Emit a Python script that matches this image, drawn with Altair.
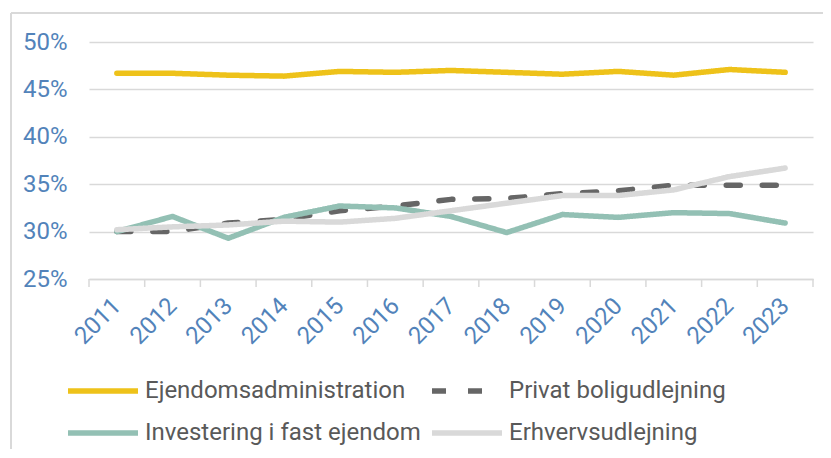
import altair as alt
import pandas as pd

# ---- data ----
years = [2011, 2012, 2013, 2014, 2015, 2016, 2017, 2018, 2019, 2020, 2021, 2022, 2023]
series_names = [
    "Ejendomsadministration",
    "Privat boligudlejning",
    "Investering i fast ejendom",
    "Erhvervsudlejning",
]
# legend is filled column by column: this order gives the reference's rows
legend_order = [
    "Ejendomsadministration",
    "Investering i fast ejendom",
    "Privat boligudlejning",
    "Erhvervsudlejning",
]
ejendomsadministration = [46.7, 46.7, 46.5, 46.4, 46.9, 46.8, 47.0, 46.8, 46.6, 46.9, 46.5, 47.1, 46.8]
privat_boligudlejning = [30.0, 30.0, 30.9, 31.3, 32.2, 32.7, 33.4, 33.5, 34.0, 34.3, 34.9, 34.9, 34.9]
investering_fast_ejendom = [30.0, 31.6, 29.3, 31.5, 32.7, 32.5, 31.6, 29.9, 31.8, 31.5, 32.0, 31.9, 30.9]
erhvervsudlejning = [30.2, 30.5, 30.7, 31.1, 31.0, 31.4, 32.2, 33.0, 33.8, 33.8, 34.4, 35.8, 36.7]
y_ticks = [0.25, 0.30, 0.35, 0.40, 0.45, 0.50]

series_values = [ejendomsadministration, privat_boligudlejning, investering_fast_ejendom, erhvervsudlejning]
rows = []
for name, vals in zip(series_names, series_values):
    for yr, v in zip(years, vals):
        rows.append({"year": yr, "value": v / 100.0, "series": name})
df = pd.DataFrame(rows)

tick_df = pd.DataFrame({"year": [y - 0.5 for y in years] + [years[-1] + 0.5]})
frame_df = pd.DataFrame({"k": [0]})

# ---- styles (in legend_order) ----
colors = ["#EEC21A", "#93C0B4", "#666666", "#D9D9D9"]
dashes = [[1, 0], [1, 0], [14, 22], [1, 0]]
grid_color = "#D9D9D9"
axis_blue = "#5283BA"
legend_gray = "#595959"
axis_font = "Liberation Sans Narrow, Roboto, sans-serif"
legend_font = "Roboto, sans-serif"

W, H = 724, 237

legend = alt.Legend(
    title=None,
    orient="none",
    legendX=-3,
    legendY=332,
    columns=2,
    padding=0,
    symbolType="M-2.5,0H2.5",
    symbolSize=784,
    symbolStrokeWidth=5.5,
    labelFont=legend_font,
    labelFontSize=24,
    labelColor=legend_gray,
    labelOffset=25,
    labelLimit=500,
    rowPadding=13,
    columnPadding=0,
)

x_enc = alt.X(
    "year:Q",
    scale=alt.Scale(domain=[years[0] - 0.5, years[-1] + 0.5], nice=False, zero=False),
    axis=alt.Axis(
        title=None,
        values=years,
        format="d",
        grid=False,
        ticks=False,
        tickSize=0,
        domain=True,
        domainColor=grid_color,
        domainWidth=1.5,
        labelAngle=-45,
        labelAlign="right",
        labelBaseline="middle",
        labelPadding=23,
        labelFont=axis_font,
        labelFontSize=24,
        labelColor=axis_blue,
        labelOverlap=False,
        labelFlush=False,
    ),
)

lines = alt.Chart(df).mark_line(strokeWidth=5.5, strokeCap="round", strokeJoin="round").encode(
    x=x_enc,
    y=alt.Y(
        "value:Q",
        scale=alt.Scale(domain=[0.25, 0.50], nice=False, zero=False),
        axis=alt.Axis(
            title=None,
            values=y_ticks,
            format=".0%",
            grid=True,
            gridColor=grid_color,
            gridWidth=1.5,
            domain=False,
            ticks=False,
            tickSize=0,
            labelPadding=22,
            labelFont=axis_font,
            labelFontSize=24,
            labelColor=axis_blue,
        ),
    ),
    color=alt.Color("series:N", scale=alt.Scale(domain=legend_order, range=colors), legend=legend),
    strokeDash=alt.StrokeDash("series:N", scale=alt.Scale(domain=legend_order, range=dashes), legend=legend),
)

ticks = alt.Chart(tick_df).mark_rule(color=grid_color, strokeWidth=1.5).encode(
    x=alt.X("year:Q"),
    y=alt.value(H),
    y2=alt.value(H + 8),
)

frame_left = alt.Chart(frame_df).mark_rule(color=grid_color, strokeWidth=2).encode(
    x=alt.value(-78), y=alt.value(-29), y2=alt.value(460)
)
frame_top = alt.Chart(frame_df).mark_rule(color=grid_color, strokeWidth=2).encode(
    x=alt.value(-78), x2=alt.value(800), y=alt.value(-29)
)

chart = alt.layer(frame_left, frame_top, ticks, lines).properties(
    width=W,
    height=H,
    autosize=alt.AutoSizeParams(type="none"),
    padding={"left": 81, "top": 34, "right": 10, "bottom": 170},
    background="white",
).configure_view(stroke=None)

chart.save("out.html", embed_options={"renderer": "svg", "actions": False})
